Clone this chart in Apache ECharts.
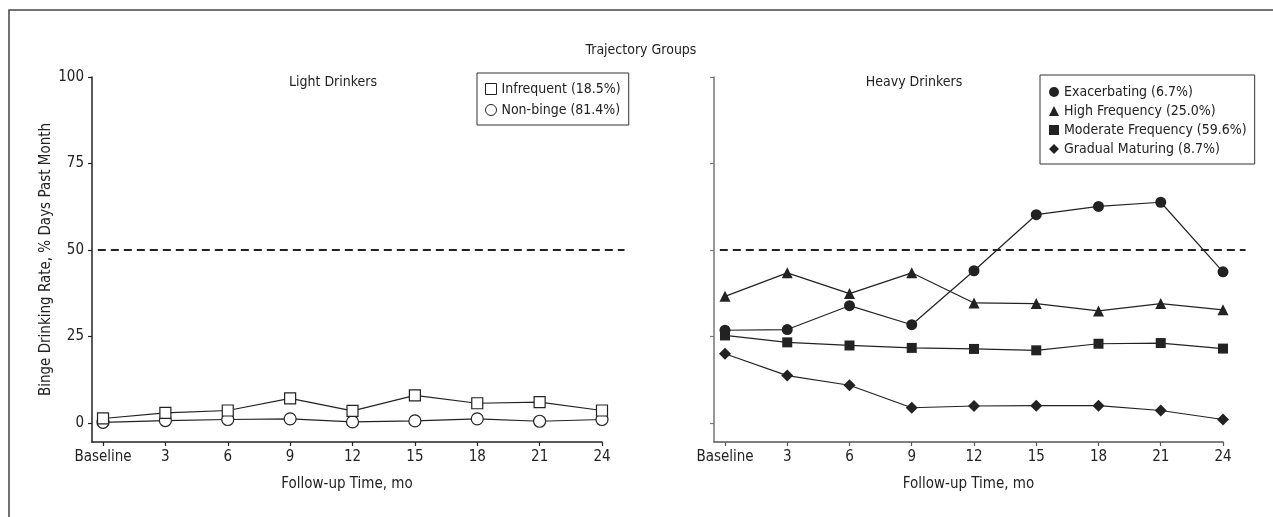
<!DOCTYPE html>
<html>
<head>
<meta charset="utf-8">
<script src="https://cdn.jsdelivr.net/npm/echarts@6.0.0/dist/echarts.min.js"></script>
<style>
html,body{margin:0;padding:0;background:#fff;}
#chart{width:1273px;height:517px;}
</style>
</head>
<body>
<div id="chart"></div>
<script>
// ---- data ----
var months = [0, 3, 6, 9, 12, 15, 18, 21, 24];
var xLabels = ['Baseline', '3', '6', '9', '12', '15', '18', '21', '24'];
var yTicks = [0, 25, 50, 75, 100];

var infrequent = [1.3, 2.9, 3.6, 7.1, 3.5, 8.0, 5.7, 6.0, 3.6];
var nonBinge = [0.2, 0.7, 1.0, 1.2, 0.3, 0.6, 1.2, 0.5, 1.0];

var exacerbating = [26.8, 27.0, 33.9, 28.4, 44.0, 60.2, 62.6, 63.8, 43.7];
var highFrequency = [36.6, 43.4, 37.4, 43.4, 34.7, 34.5, 32.4, 34.5, 32.7];
var moderateFrequency = [25.3, 23.3, 22.4, 21.7, 21.4, 21.0, 22.9, 23.1, 21.5];
var gradualMaturing = [20.0, 13.7, 10.9, 4.4, 4.9, 5.0, 5.0, 3.6, 1.0];

var threshold = 50;
var thresholdSpan = [-0.25, 25.1];

// ---- build ----
var FONT = "'Liberation Sans Narrow', 'DejaVu Sans Condensed', 'Liberation Sans', sans-serif";
var INK = '#222';
var XMIN = -0.53, XMAX = 24, XMAX_WIDE = 25.17;

function pairs(vals) { return months.map(function (m, i) { return [m, vals[i]]; }); }

function xAxisCfg(gridIndex, color) {
  return {
    type: 'value', gridIndex: gridIndex, min: XMIN, max: XMAX,
    name: 'Follow-up Time, mo', nameLocation: 'middle', nameGap: 35,
    nameTextStyle: { fontFamily: FONT, fontSize: 15, color: INK },
    axisLine: { show: true, onZero: false, lineStyle: { color: color, width: 1.5 } },
    axisTick: { show: true, length: 4, customValues: months, lineStyle: { color: color, width: 1.2 } },
    axisLabel: { customValues: months, margin: 8, fontFamily: FONT, fontSize: 15, color: INK,
      formatter: function (v) { var i = months.indexOf(v); return i >= 0 ? xLabels[i] : ''; } },
    splitLine: { show: false }
  };
}
function hiddenX(gridIndex) {
  return { type: 'value', gridIndex: gridIndex, min: XMIN, max: XMAX_WIDE, show: false, splitLine: { show: false } };
}
function yAxisCfg(gridIndex, color, showLabels) {
  var ax = {
    type: 'value', gridIndex: gridIndex, min: -5.5, max: 100,
    axisLine: { show: true, onZero: false, lineStyle: { color: color, width: 1.5 } },
    axisTick: { show: true, length: 4, customValues: yTicks, lineStyle: { color: color, width: 1.2 } },
    axisLabel: { show: showLabels, customValues: yTicks, margin: 8, fontFamily: FONT, fontSize: 15, color: INK },
    splitLine: { show: false }
  };
  if (showLabels) {
    ax.name = 'Binge Drinking Rate, % Days Past Month';
    ax.nameLocation = 'middle';
    ax.nameGap = 38;
    ax.nameTextStyle = { fontFamily: FONT, fontSize: 15, color: INK };
  }
  return ax;
}
function hiddenY(gridIndex) {
  return { type: 'value', gridIndex: gridIndex, min: -5.5, max: 100, show: false, splitLine: { show: false } };
}

function dashSeries(ai) {
  return {
    name: 'threshold' + ai, type: 'line', xAxisIndex: ai, yAxisIndex: ai,
    data: thresholdSpan.map(function (x) { return [x, threshold]; }),
    symbol: 'none', silent: true, z: 1,
    lineStyle: { type: [8, 5], width: 2, color: INK },
    emphasis: { disabled: true }, tooltip: { show: false }
  };
}

function lineSeries(name, vals, gi, symbol, size, filled) {
  return {
    name: name, type: 'line', xAxisIndex: gi, yAxisIndex: gi,
    data: pairs(vals), symbol: symbol, symbolSize: size, showAllSymbol: true,
    clip: false, z: 3,
    lineStyle: { color: INK, width: 1.2 },
    itemStyle: filled ? { color: INK, borderColor: INK, borderWidth: 0 } : { color: '#fff', borderColor: INK, borderWidth: 1.2 },
    emphasis: { disabled: true }
  };
}

var option = {
  animation: false,
  backgroundColor: '#fff',
  textStyle: { fontFamily: FONT },
  graphic: [
    { type: 'rect', shape: { x: 9, y: 10, width: 1400, height: 700 },
      style: { fill: 'none', stroke: '#444', lineWidth: 1.5 }, silent: true }
  ],
  title: [
    { text: 'Trajectory Groups', left: 636, top: 38, textAlign: 'center',
      textStyle: { fontFamily: FONT, fontSize: 14, fontWeight: 'normal', color: INK } },
    { text: 'Light Drinkers', left: 328, top: 70, textAlign: 'center',
      textStyle: { fontFamily: FONT, fontSize: 14, fontWeight: 'normal', color: INK } },
    { text: 'Heavy Drinkers', left: 909, top: 70, textAlign: 'center',
      textStyle: { fontFamily: FONT, fontSize: 14, fontWeight: 'normal', color: INK } }
  ],
  legend: [
    { left: 477, top: 73, orient: 'vertical', itemGap: 7, itemWidth: 11, itemHeight: 11,
      padding: [9, 8, 8, 8], borderColor: '#333', borderWidth: 1, selectedMode: false,
      textStyle: { fontFamily: FONT, fontSize: 14, color: INK },
      data: [
        { name: 'Infrequent (18.5%)', icon: 'rect', itemStyle: { color: '#fff', borderColor: INK, borderWidth: 1 } },
        { name: 'Non-binge (81.4%)', icon: 'circle', itemStyle: { color: '#fff', borderColor: INK, borderWidth: 1 } }
      ] },
    { left: 1040, top: 75, orient: 'vertical', itemGap: 5, itemWidth: 10, itemHeight: 10,
      padding: [10, 8, 8, 9], borderColor: '#333', borderWidth: 1, selectedMode: false,
      textStyle: { fontFamily: FONT, fontSize: 14, color: INK },
      data: [
        { name: 'Exacerbating (6.7%)', icon: 'circle', itemStyle: { color: INK, borderWidth: 0 } },
        { name: 'High Frequency (25.0%)', icon: 'triangle', itemStyle: { color: INK, borderWidth: 0 } },
        { name: 'Moderate Frequency (59.6%)', icon: 'rect', itemStyle: { color: INK, borderWidth: 0 } },
        { name: 'Gradual Maturing (8.7%)', icon: 'diamond', itemStyle: { color: INK, borderWidth: 0 } }
      ] }
  ],
  grid: [
    { left: 92, right: 671, top: 77, bottom: 75, containLabel: false },
    { left: 714, right: 50, top: 77, bottom: 75, containLabel: false },
    { left: 92, right: 647, top: 77, bottom: 75, containLabel: false, show: false },
    { left: 714, right: 26, top: 77, bottom: 75, containLabel: false, show: false }
  ],
  xAxis: [xAxisCfg(0, '#222'), xAxisCfg(1, '#555'), hiddenX(2), hiddenX(3)],
  yAxis: [yAxisCfg(0, '#222', true), yAxisCfg(1, '#777', false), hiddenY(2), hiddenY(3)],
  series: [
    dashSeries(2),
    dashSeries(3),
    lineSeries('Non-binge (81.4%)', nonBinge, 0, 'circle', 12, false),
    lineSeries('Infrequent (18.5%)', infrequent, 0, 'rect', 11, false),
    lineSeries('Exacerbating (6.7%)', exacerbating, 1, 'circle', 11, true),
    lineSeries('High Frequency (25.0%)', highFrequency, 1, 'triangle', 11, true),
    lineSeries('Moderate Frequency (59.6%)', moderateFrequency, 1, 'rect', 10, true),
    lineSeries('Gradual Maturing (8.7%)', gradualMaturing, 1, 'diamond', 12, true)
  ]
};

var chart = echarts.init(document.getElementById('chart'), null, { renderer: 'canvas' });
chart.setOption(option);
</script>
</body>
</html>
